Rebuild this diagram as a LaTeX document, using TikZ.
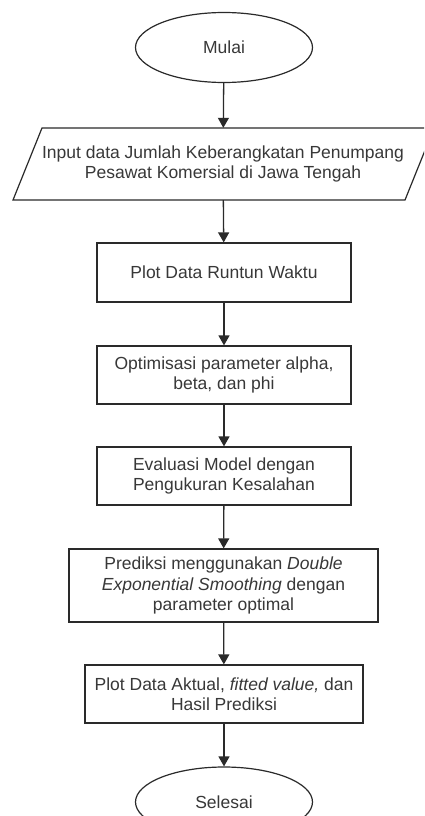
\documentclass[tikz,border=0pt]{standalone}
\usepackage{fontspec}
\setmainfont{Liberation Sans}
\usetikzlibrary{shapes.geometric,arrows.meta}
\definecolor{ln}{HTML}{2A2A2A}
\definecolor{tx}{HTML}{383838}
\tikzset{
  txtfont/.style={font=\fontsize{17.5}{20.5}\selectfont},
  proc/.style={draw=ln, line width=1.2pt, rectangle, align=center, text=tx, inner sep=0pt, txtfont},
  term/.style={draw=ln, line width=1.2pt, ellipse, text=tx, inner sep=0pt, minimum width=177pt, minimum height=70pt, txtfont},
  arr/.style={draw=ln, line width=1.3pt, -{Triangle[length=10pt,width=11pt]}}
}
\begin{document}
\begin{tikzpicture}[x=1pt,y=-1pt]
\useasboundingbox (0,0) rectangle (424,816);
\fill[white] (0,0) rectangle (424,816);
\clip (0,0) rectangle (424,816);
\node[term] (start) at (224,47.5) {Mulai};
\node[align=center, text=tx, inner sep=0pt, minimum width=392pt, minimum height=72pt, txtfont] (input) at (223,164) {Input data Jumlah Keberangkatan Penumpang\\Pesawat Komersial di Jawa Tengah};
\draw[draw=ln, line width=1.2pt] (42,128) -- (434,128) -- (405,200) -- (13,200) -- cycle;
\node[proc, minimum width=254pt, minimum height=59pt] (plot) at (224,272.5) {Plot Data Runtun Waktu};
\node[proc, minimum width=254pt, minimum height=58pt] (opt) at (224,375) {Optimisasi parameter alpha,\\beta, dan phi};
\node[proc, minimum width=254pt, minimum height=58pt] (eval) at (224,476) {Evaluasi Model dengan\\Pengukuran Kesalahan};
\node[proc, minimum width=309pt, minimum height=73pt] (pred) at (223.5,585.5) {Prediksi menggunakan \textit{Double}\\\textit{Exponential Smoothing} dengan\\parameter optimal};
\node[proc, minimum width=278pt, minimum height=58pt] (hasil) at (224,694) {Plot Data Aktual, \textit{fitted value,} dan\\Hasil Prediksi};
\node[term] (end) at (224,802) {Selesai};
\draw[arr] (start) -- (input);
\draw[arr] (input) -- (plot);
\draw[arr] (plot) -- (opt);
\draw[arr] (opt) -- (eval);
\draw[arr] (eval) -- (pred);
\draw[arr] (pred) -- (hasil);
\draw[arr] (hasil) -- (end);
\end{tikzpicture}
\end{document}
